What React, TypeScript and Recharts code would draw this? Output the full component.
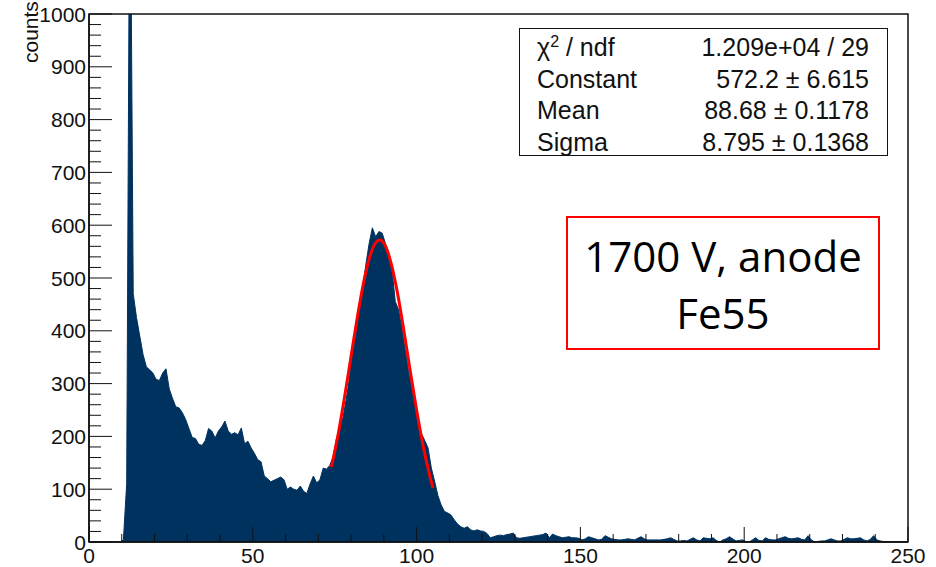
import React from 'react';
import { ComposedChart, Area, Line, XAxis, YAxis, ReferenceArea } from 'recharts';

// histogram counts, one entry per unit bin starting at 0
const counts = [
  0, 0, 0, 0, 0, 0, 0, 0, 0, 0,
  4, 110, 1400, 470, 425, 390, 355, 332, 326, 320,
  308, 306, 320, 328, 290, 272, 256, 254, 245, 232,
  215, 198, 196, 185, 183, 192, 215, 210, 197, 210,
  218, 229, 210, 204, 207, 203, 216, 186, 191, 178,
  168, 156, 152, 125, 120, 114, 117, 120, 123, 118,
  100, 104, 100, 98, 106, 96, 92, 110, 125, 112,
  118, 140, 138, 145, 161, 195, 212, 235, 270, 310,
  370, 390, 440, 480, 525, 565, 595, 578, 588, 585,
  565, 548, 515, 455, 440, 405, 365, 325, 290, 262,
  225, 205, 192, 178, 140, 115, 88, 70, 58, 55,
  51, 42, 34, 29, 26, 29, 23, 21, 23, 21,
  20, 16, 8, 10, 12, 13, 12, 14, 15, 17,
  8, 7, 8, 9, 10, 11, 12, 13, 14, 17,
  8, 15, 12, 10, 8, 9, 10, 8, 8, 7,
  4, 6, 10, 8, 6, 4, 5, 12, 9, 6,
  5, 4, 4, 5, 6, 5, 4, 7, 10, 6,
  4, 4, 4, 4, 4, 5, 6, 8, 5, 2,
  2, 3, 2, 5, 8, 4, 2, 8, 7, 6,
  8, 3, 0, 4, 6, 10, 6, 2, 3, 4,
  1, 0, 4, 8, 3, 2, 8, 5, 4, 4,
  6, 8, 10, 7, 6, 7, 8, 5, 4, 12,
  4, 0, 1, 2, 2, 4, 6, 4, 2, 2,
  5, 8, 6, 6, 7, 8, 4, 2, 5, 12,
  4, 2, 1, 1, 0, 1, 0, 1, 0, 1,
];

// gaussian fit curve as drawn (red)
const fitX = [74, 76, 78, 80, 82, 84, 86, 88, 89, 90, 92, 94, 96, 98, 100, 102, 104, 105];
const fitY = [142, 202, 274, 352, 429, 497, 546, 570, 572, 566, 533, 477, 405, 326, 250, 182, 126, 102];

const xMajor = [0, 50, 100, 150, 200, 250];
const yMajor = [0, 100, 200, 300, 400, 500, 600, 700, 800, 900, 1000];

const statLabels = ['χ2 / ndf', 'Constant', 'Mean', 'Sigma'];
const statValues = ['1.209e+04 / 29', '572.2 ± 6.615', '88.68 ± 0.1178', '8.795 ± 0.1368'];

const xTicks = Array.from({ length: 26 }, (_, i) => i * 10);
const yTicks = Array.from({ length: 51 }, (_, i) => i * 20);

const histData = counts.map((c, i) => ({ x: i + 0.5, c }));
const fitData = fitX.map((x, i) => ({ x, f: fitY[i] }));

const FONT = '"Liberation Sans", Arial, Helvetica, sans-serif';
const NAVY = '#00325f';

const XTick = (props: any) => {
  const { x, y, payload } = props;
  const major = xMajor.includes(payload.value);
  return (
    <g>
      <line x1={x} x2={x} y1={y} y2={y - (major ? 15 : 8)} stroke="#111" strokeWidth={1} />
      {major && (
        <text x={x} y={y + 21} textAnchor="middle" fontSize={21} fontFamily={FONT} fill="#111">
          {payload.value}
        </text>
      )}
    </g>
  );
};

const YTick = (props: any) => {
  const { x, y, payload } = props;
  const major = yMajor.includes(payload.value);
  return (
    <g>
      <line x1={x} x2={x + (major ? 23 : 12)} y1={y} y2={y} stroke="#111" strokeWidth={1} />
      {major && (
        <text x={x - 3} y={y} dy="0.36em" textAnchor="end" fontSize={21} fontFamily={FONT} fill="#111">
          {payload.value}
        </text>
      )}
    </g>
  );
};

export default function App() {
  return (
    <div style={{ position: 'absolute', left: 0, top: 0, width: 936, height: 567, background: '#fff' }}>
      <ComposedChart width={936} height={567} margin={{ top: 14, right: 28, left: 0, bottom: 0 }}>
        <XAxis
          type="number"
          dataKey="x"
          domain={[0, 250]}
          ticks={xTicks}
          interval={0}
          allowDataOverflow
          height={25}
          tickSize={0}
          tickMargin={0}
          tick={<XTick />}
          axisLine={{ stroke: '#111', strokeWidth: 1.5 }}
        />
        <YAxis
          type="number"
          domain={[0, 1000]}
          ticks={yTicks}
          interval={0}
          allowDataOverflow
          width={89}
          tickSize={0}
          tickMargin={0}
          tick={<YTick />}
          axisLine={{ stroke: '#111', strokeWidth: 1.5 }}
        />
        <Area
          data={histData}
          dataKey="c"
          type="linear"
          stroke={NAVY}
          strokeWidth={1}
          fill={NAVY}
          fillOpacity={1}
          dot={false}
          activeDot={false}
          isAnimationActive={false}
        />
        <Line
          data={fitData}
          dataKey="f"
          type="monotone"
          stroke="#ff0000"
          strokeWidth={3}
          dot={false}
          activeDot={false}
          isAnimationActive={false}
        />
        <ReferenceArea x1={0} x2={250} y1={0} y2={1000} fill="none" stroke="#111" strokeWidth={1.5} />
      </ComposedChart>

      <svg style={{ position: 'absolute', left: 0, top: 0 }} width={60} height={80}>
        <text x={38} y={63} transform="rotate(-90 38 63)" fontSize={21} fontFamily={FONT} fill="#111">
          counts
        </text>
      </svg>

      <div
        style={{
          position: 'absolute',
          left: 519,
          top: 28,
          width: 369,
          height: 128,
          border: '1.5px solid #111',
          boxSizing: 'border-box',
          background: '#fff',
          fontFamily: FONT,
          fontSize: 25,
          color: '#111',
        }}
      >
        {statLabels.map((label, i) => (
          <div
            key={label}
            style={{ position: 'absolute', left: 17, right: 18, top: 3 + i * 31.5, height: 31, lineHeight: '31px', display: 'flex', justifyContent: 'space-between' }}
          >
            <span>
              {i === 0 ? (
                <>
                  χ<sup style={{ fontSize: 16, verticalAlign: 'top', lineHeight: '20px' }}>2</sup> / ndf
                </>
              ) : (
                label
              )}
            </span>
            <span>{statValues[i]}</span>
          </div>
        ))}
      </div>

      <div
        style={{
          position: 'absolute',
          left: 566,
          top: 216,
          width: 314,
          height: 134,
          border: '2px solid #ff0000',
          boxSizing: 'border-box',
          background: '#fff',
          fontFamily: '"Open Sans", "Noto Sans", sans-serif',
          fontSize: 42,
          lineHeight: '57px',
          color: '#000',
          textAlign: 'center',
          paddingTop: 9,
        }}
      >
        <div>1700 V, anode</div>
        <div>Fe55</div>
      </div>
    </div>
  );
}
